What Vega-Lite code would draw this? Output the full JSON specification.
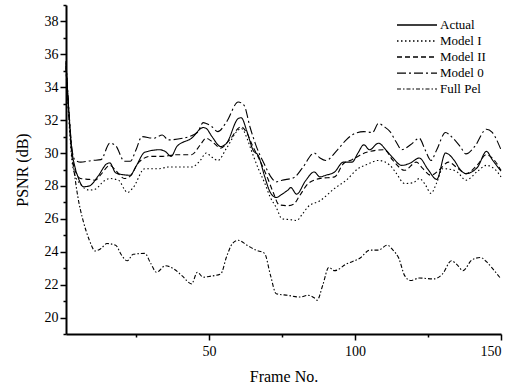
{
  "$schema": "https://vega.github.io/schema/vega-lite/v6.json",
  "width": 435,
  "height": 329,
  "autosize": "none",
  "padding": {"left": 66, "top": 5, "right": 17, "bottom": 57},
  "background": "white",
  "config": {
    "view": {"stroke": null},
    "font": "Liberation Serif",
    "axis": {
      "domainColor": "black", "domainWidth": 2, "tickColor": "black", "tickWidth": 1.5,
      "labelFont": "Liberation Serif", "labelFontSize": 14, "labelColor": "black",
      "titleFont": "Liberation Serif", "titleFontSize": 16, "titleFontWeight": "normal", "titleColor": "black",
      "grid": false
    },
    "legend": {
      "labelFont": "Liberation Serif", "labelFontSize": 13, "labelColor": "black"
    }
  },
  "data": {"values": [
    {"s":"Actual","f":1,"v":35.5},{"s":"Actual","f":2,"v":32.5},{"s":"Actual","f":3,"v":30.2},{"s":"Actual","f":4,"v":29.2},{"s":"Actual","f":5,"v":28.6},{"s":"Actual","f":7,"v":27.95},{"s":"Actual","f":9,"v":28.0},{"s":"Actual","f":12,"v":28.6},{"s":"Actual","f":15,"v":29.35},{"s":"Actual","f":16,"v":29.4},{"s":"Actual","f":18,"v":28.8},{"s":"Actual","f":20,"v":28.7},{"s":"Actual","f":23,"v":28.65},{"s":"Actual","f":25,"v":29.2},{"s":"Actual","f":28,"v":30.05},{"s":"Actual","f":33,"v":30.2},{"s":"Actual","f":35,"v":30.1},{"s":"Actual","f":37,"v":29.8},{"s":"Actual","f":39,"v":30.4},{"s":"Actual","f":44,"v":30.9},{"s":"Actual","f":48,"v":31.55},{"s":"Actual","f":49,"v":31.5},{"s":"Actual","f":51,"v":31.0},{"s":"Actual","f":54,"v":30.4},{"s":"Actual","f":56,"v":30.6},{"s":"Actual","f":60,"v":32.1},{"s":"Actual","f":61,"v":32.15},{"s":"Actual","f":63,"v":31.3},{"s":"Actual","f":65,"v":30.2},{"s":"Actual","f":67,"v":29.8},{"s":"Actual","f":69,"v":28.6},{"s":"Actual","f":71,"v":27.6},{"s":"Actual","f":73,"v":27.3},{"s":"Actual","f":75,"v":27.5},{"s":"Actual","f":77,"v":27.75},{"s":"Actual","f":78,"v":27.9},{"s":"Actual","f":80,"v":27.5},{"s":"Actual","f":83,"v":28.3},{"s":"Actual","f":86,"v":28.85},{"s":"Actual","f":88,"v":28.55},{"s":"Actual","f":90,"v":28.65},{"s":"Actual","f":93,"v":28.85},{"s":"Actual","f":96,"v":29.45},{"s":"Actual","f":99,"v":29.45},{"s":"Actual","f":101,"v":30.0},{"s":"Actual","f":103,"v":30.5},{"s":"Actual","f":105,"v":30.2},{"s":"Actual","f":108,"v":30.6},{"s":"Actual","f":111,"v":30.1},{"s":"Actual","f":113,"v":29.7},{"s":"Actual","f":116,"v":29.25},{"s":"Actual","f":119,"v":29.4},{"s":"Actual","f":122,"v":29.7},{"s":"Actual","f":125,"v":29.0},{"s":"Actual","f":128,"v":28.4},{"s":"Actual","f":131,"v":30.0},{"s":"Actual","f":134,"v":29.55},{"s":"Actual","f":136,"v":29.0},{"s":"Actual","f":138,"v":28.75},{"s":"Actual","f":142,"v":29.15},{"s":"Actual","f":145,"v":30.1},{"s":"Actual","f":147,"v":29.6},{"s":"Actual","f":150,"v":28.9},

    {"s":"Model I","f":1,"v":35.0},{"s":"Model I","f":2,"v":32.0},{"s":"Model I","f":3,"v":29.6},{"s":"Model I","f":4,"v":28.7},{"s":"Model I","f":6,"v":28.1},{"s":"Model I","f":9,"v":27.75},{"s":"Model I","f":11,"v":27.8},{"s":"Model I","f":14,"v":28.3},{"s":"Model I","f":16,"v":28.45},{"s":"Model I","f":19,"v":28.35},{"s":"Model I","f":21,"v":27.8},{"s":"Model I","f":22,"v":27.6},{"s":"Model I","f":24,"v":27.9},{"s":"Model I","f":28,"v":29.05},{"s":"Model I","f":33,"v":29.05},{"s":"Model I","f":36,"v":29.15},{"s":"Model I","f":44,"v":29.15},{"s":"Model I","f":47,"v":29.55},{"s":"Model I","f":49,"v":30.0},{"s":"Model I","f":51,"v":29.75},{"s":"Model I","f":53,"v":29.55},{"s":"Model I","f":56,"v":30.3},{"s":"Model I","f":60,"v":31.4},{"s":"Model I","f":61,"v":31.5},{"s":"Model I","f":63,"v":30.9},{"s":"Model I","f":64,"v":30.4},{"s":"Model I","f":67,"v":29.0},{"s":"Model I","f":69,"v":28.2},{"s":"Model I","f":71,"v":27.3},{"s":"Model I","f":73,"v":26.7},{"s":"Model I","f":75,"v":26.0},{"s":"Model I","f":78,"v":25.95},{"s":"Model I","f":80,"v":25.9},{"s":"Model I","f":82,"v":26.3},{"s":"Model I","f":84,"v":26.75},{"s":"Model I","f":88,"v":27.1},{"s":"Model I","f":93,"v":27.85},{"s":"Model I","f":97,"v":28.35},{"s":"Model I","f":101,"v":29.05},{"s":"Model I","f":104,"v":29.3},{"s":"Model I","f":108,"v":29.55},{"s":"Model I","f":112,"v":29.25},{"s":"Model I","f":114,"v":28.8},{"s":"Model I","f":117,"v":28.15},{"s":"Model I","f":120,"v":28.2},{"s":"Model I","f":122,"v":28.45},{"s":"Model I","f":124,"v":28.1},{"s":"Model I","f":126,"v":27.55},{"s":"Model I","f":128,"v":28.2},{"s":"Model I","f":130,"v":29.05},{"s":"Model I","f":133,"v":29.0},{"s":"Model I","f":135,"v":28.85},{"s":"Model I","f":138,"v":28.35},{"s":"Model I","f":142,"v":28.9},{"s":"Model I","f":145,"v":29.25},{"s":"Model I","f":148,"v":29.0},{"s":"Model I","f":150,"v":28.55},

    {"s":"Model II","f":1,"v":35.3},{"s":"Model II","f":2,"v":32.3},{"s":"Model II","f":3,"v":29.9},{"s":"Model II","f":4,"v":29.0},{"s":"Model II","f":6,"v":28.45},{"s":"Model II","f":9,"v":28.4},{"s":"Model II","f":11,"v":28.35},{"s":"Model II","f":13,"v":28.7},{"s":"Model II","f":16,"v":29.25},{"s":"Model II","f":18,"v":28.95},{"s":"Model II","f":21,"v":28.45},{"s":"Model II","f":23,"v":28.6},{"s":"Model II","f":26,"v":29.45},{"s":"Model II","f":30,"v":29.8},{"s":"Model II","f":34,"v":29.8},{"s":"Model II","f":39,"v":29.9},{"s":"Model II","f":44,"v":29.9},{"s":"Model II","f":47,"v":30.5},{"s":"Model II","f":49,"v":30.9},{"s":"Model II","f":51,"v":30.7},{"s":"Model II","f":54,"v":30.3},{"s":"Model II","f":57,"v":30.8},{"s":"Model II","f":61,"v":31.6},{"s":"Model II","f":63,"v":31.2},{"s":"Model II","f":65,"v":30.4},{"s":"Model II","f":67,"v":29.7},{"s":"Model II","f":70,"v":28.5},{"s":"Model II","f":72,"v":27.6},{"s":"Model II","f":74,"v":26.85},{"s":"Model II","f":77,"v":26.8},{"s":"Model II","f":79,"v":26.9},{"s":"Model II","f":81,"v":27.4},{"s":"Model II","f":84,"v":28.15},{"s":"Model II","f":88,"v":28.45},{"s":"Model II","f":93,"v":28.55},{"s":"Model II","f":96,"v":29.35},{"s":"Model II","f":99,"v":29.6},{"s":"Model II","f":104,"v":30.05},{"s":"Model II","f":110,"v":30.2},{"s":"Model II","f":113,"v":29.55},{"s":"Model II","f":117,"v":28.95},{"s":"Model II","f":121,"v":29.45},{"s":"Model II","f":123,"v":29.1},{"s":"Model II","f":126,"v":28.65},{"s":"Model II","f":129,"v":29.0},{"s":"Model II","f":132,"v":29.45},{"s":"Model II","f":135,"v":29.1},{"s":"Model II","f":138,"v":28.75},{"s":"Model II","f":142,"v":29.3},{"s":"Model II","f":145,"v":29.9},{"s":"Model II","f":148,"v":29.5},{"s":"Model II","f":150,"v":28.95},

    {"s":"Model 0","f":1,"v":35.6},{"s":"Model 0","f":2,"v":32.6},{"s":"Model 0","f":3,"v":30.3},{"s":"Model 0","f":4,"v":29.6},{"s":"Model 0","f":6,"v":29.45},{"s":"Model 0","f":10,"v":29.55},{"s":"Model 0","f":13,"v":29.6},{"s":"Model 0","f":16,"v":30.6},{"s":"Model 0","f":18,"v":30.45},{"s":"Model 0","f":21,"v":29.5},{"s":"Model 0","f":23,"v":29.5},{"s":"Model 0","f":25,"v":30.2},{"s":"Model 0","f":27,"v":31.0},{"s":"Model 0","f":31,"v":30.9},{"s":"Model 0","f":34,"v":31.1},{"s":"Model 0","f":36,"v":30.8},{"s":"Model 0","f":41,"v":30.9},{"s":"Model 0","f":46,"v":31.25},{"s":"Model 0","f":48,"v":31.85},{"s":"Model 0","f":49,"v":31.8},{"s":"Model 0","f":51,"v":31.6},{"s":"Model 0","f":53,"v":31.3},{"s":"Model 0","f":56,"v":31.9},{"s":"Model 0","f":60,"v":33.1},{"s":"Model 0","f":62,"v":32.9},{"s":"Model 0","f":64,"v":31.6},{"s":"Model 0","f":66,"v":30.5},{"s":"Model 0","f":69,"v":29.3},{"s":"Model 0","f":71,"v":28.6},{"s":"Model 0","f":73,"v":28.25},{"s":"Model 0","f":75,"v":28.35},{"s":"Model 0","f":79,"v":28.5},{"s":"Model 0","f":82,"v":29.1},{"s":"Model 0","f":86,"v":30.0},{"s":"Model 0","f":88,"v":29.7},{"s":"Model 0","f":90,"v":29.55},{"s":"Model 0","f":94,"v":30.2},{"s":"Model 0","f":97,"v":30.8},{"s":"Model 0","f":100,"v":31.2},{"s":"Model 0","f":103,"v":31.3},{"s":"Model 0","f":106,"v":31.25},{"s":"Model 0","f":108,"v":31.8},{"s":"Model 0","f":110,"v":31.6},{"s":"Model 0","f":112,"v":31.3},{"s":"Model 0","f":114,"v":30.7},{"s":"Model 0","f":116,"v":30.2},{"s":"Model 0","f":119,"v":30.5},{"s":"Model 0","f":122,"v":30.9},{"s":"Model 0","f":124,"v":30.2},{"s":"Model 0","f":126,"v":29.55},{"s":"Model 0","f":128,"v":30.2},{"s":"Model 0","f":131,"v":31.25},{"s":"Model 0","f":133,"v":31.0},{"s":"Model 0","f":136,"v":30.4},{"s":"Model 0","f":138,"v":29.95},{"s":"Model 0","f":141,"v":30.4},{"s":"Model 0","f":145,"v":31.45},{"s":"Model 0","f":147,"v":31.25},{"s":"Model 0","f":150,"v":30.2},

    {"s":"Full Pel","f":1,"v":35.2},{"s":"Full Pel","f":2,"v":32.3},{"s":"Full Pel","f":3,"v":30.0},{"s":"Full Pel","f":4,"v":28.6},{"s":"Full Pel","f":5,"v":27.4},{"s":"Full Pel","f":6,"v":26.5},{"s":"Full Pel","f":7,"v":25.8},{"s":"Full Pel","f":8,"v":25.2},{"s":"Full Pel","f":9,"v":24.7},{"s":"Full Pel","f":11,"v":24.05},{"s":"Full Pel","f":13,"v":24.2},{"s":"Full Pel","f":15,"v":24.5},{"s":"Full Pel","f":18,"v":24.4},{"s":"Full Pel","f":20,"v":23.8},{"s":"Full Pel","f":22,"v":23.45},{"s":"Full Pel","f":24,"v":23.85},{"s":"Full Pel","f":28,"v":23.9},{"s":"Full Pel","f":30,"v":23.3},{"s":"Full Pel","f":32,"v":22.75},{"s":"Full Pel","f":35,"v":23.15},{"s":"Full Pel","f":38,"v":22.95},{"s":"Full Pel","f":41,"v":22.5},{"s":"Full Pel","f":44,"v":22.05},{"s":"Full Pel","f":46,"v":22.75},{"s":"Full Pel","f":48,"v":22.45},{"s":"Full Pel","f":50,"v":22.5},{"s":"Full Pel","f":54,"v":22.65},{"s":"Full Pel","f":56,"v":23.7},{"s":"Full Pel","f":58,"v":24.5},{"s":"Full Pel","f":60,"v":24.7},{"s":"Full Pel","f":63,"v":24.4},{"s":"Full Pel","f":66,"v":24.1},{"s":"Full Pel","f":69,"v":23.9},{"s":"Full Pel","f":71,"v":22.6},{"s":"Full Pel","f":73,"v":21.45},{"s":"Full Pel","f":77,"v":21.35},{"s":"Full Pel","f":81,"v":21.25},{"s":"Full Pel","f":84,"v":21.35},{"s":"Full Pel","f":86,"v":21.2},{"s":"Full Pel","f":87,"v":21.05},{"s":"Full Pel","f":89,"v":22.0},{"s":"Full Pel","f":91,"v":23.05},{"s":"Full Pel","f":93,"v":22.85},{"s":"Full Pel","f":97,"v":23.25},{"s":"Full Pel","f":102,"v":23.65},{"s":"Full Pel","f":105,"v":24.1},{"s":"Full Pel","f":108,"v":24.1},{"s":"Full Pel","f":111,"v":24.4},{"s":"Full Pel","f":113,"v":24.1},{"s":"Full Pel","f":115,"v":23.6},{"s":"Full Pel","f":117,"v":22.55},{"s":"Full Pel","f":119,"v":22.25},{"s":"Full Pel","f":122,"v":22.4},{"s":"Full Pel","f":127,"v":22.35},{"s":"Full Pel","f":130,"v":22.65},{"s":"Full Pel","f":133,"v":23.45},{"s":"Full Pel","f":135,"v":23.2},{"s":"Full Pel","f":137,"v":22.85},{"s":"Full Pel","f":140,"v":23.5},{"s":"Full Pel","f":143,"v":23.65},{"s":"Full Pel","f":145,"v":23.4},{"s":"Full Pel","f":147,"v":23.0},{"s":"Full Pel","f":150,"v":22.35}
  ]},
  "mark": {"type": "line", "interpolate": "monotone", "color": "black", "strokeWidth": 1.1},
  "encoding": {
    "x": {
      "field": "f", "type": "quantitative", "title": "Frame No.",
      "scale": {"domain": [1, 150], "nice": false, "zero": false},
      "axis": {
        "values": [25, 50, 75, 100, 125, 150],
        "labelExpr": "datum.value % 50 === 0 ? datum.label : ''",
        "tickSize": {"condition": {"test": "datum.value % 50 === 0", "value": 6}, "value": 3},
        "labelFont": "Liberation Serif", "labelFontSize": 14,
        "titleFont": "Liberation Serif", "titleFontSize": 16, "titleFontWeight": "normal",
        "labelPadding": 4, "titlePadding": 10
      }
    },
    "y": {
      "field": "v", "type": "quantitative", "title": "PSNR (dB)",
      "scale": {"domain": [19, 39], "nice": false, "zero": false},
      "axis": {
        "values": [19,20,21,22,23,24,25,26,27,28,29,30,31,32,33,34,35,36,37,38,39],
        "labelExpr": "datum.value % 2 === 0 && datum.value < 39 ? datum.label : ''",
        "tickSize": {"condition": {"test": "datum.value % 2 === 0", "value": 6}, "value": 3},
        "labelFont": "Liberation Serif", "labelFontSize": 14,
        "titleFont": "Liberation Serif", "titleFontSize": 16, "titleFontWeight": "normal",
        "labelPadding": 2, "titlePadding": 14
      }
    },
    "strokeDash": {
      "field": "s", "type": "nominal",
      "scale": {
        "domain": ["Actual", "Model I", "Model II", "Model 0", "Full Pel"],
        "range": [[1, 0], [1.5, 2.5], [5, 3], [9, 3, 2, 3], [4, 2, 1.5, 2]]
      },
      "legend": {
        "title": null, "orient": "none", "legendX": 330, "legendY": 13,
        "symbolType": "stroke", "symbolSize": 1600, "symbolStrokeColor": "black",
        "symbolStrokeWidth": 1.2, "clipHeight": 14, "rowPadding": 2, "labelOffset": 2, "padding": 0,
        "labelFont": "Liberation Serif", "labelFontSize": 13
      }
    },
    "strokeWidth": {
      "field": "s", "type": "nominal",
      "scale": {
        "domain": ["Actual", "Model I", "Model II", "Model 0", "Full Pel"],
        "range": [1.7, 1.1, 1.1, 1.1, 1.2]
      },
      "legend": null
    }
  }
}
